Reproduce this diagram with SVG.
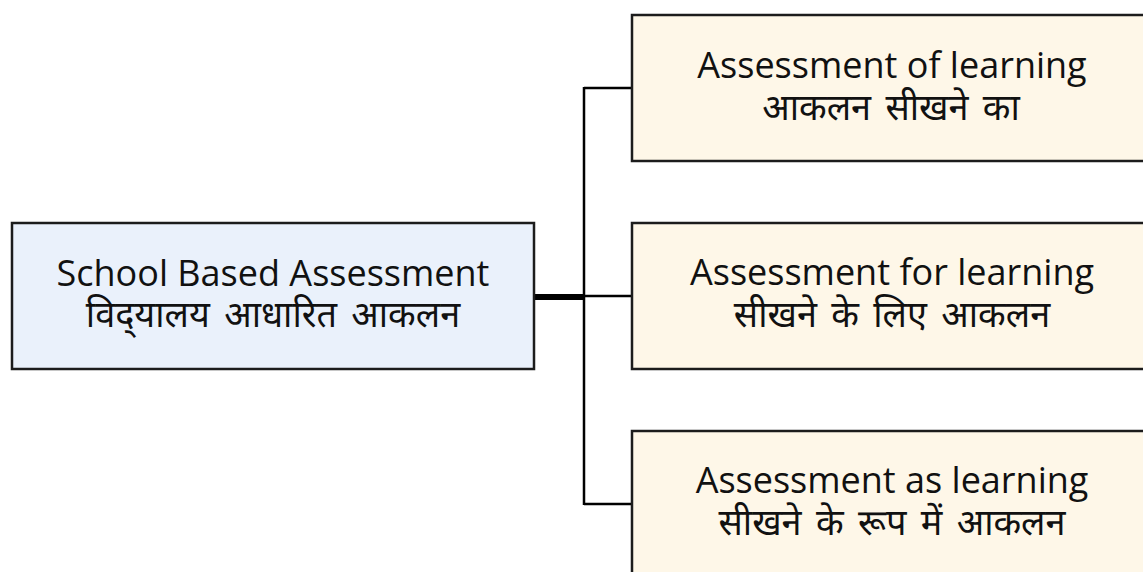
<svg xmlns="http://www.w3.org/2000/svg" width="1143" height="572" viewBox="0 0 1143 572">
  <style>
    .box { stroke: #1c1c1c; stroke-width: 2.5; }
    .root { fill: #eaf1fb; }
    .leaf { fill: #fef7e8; }
    .en { font-family: "Open Sans", "Noto Sans", sans-serif; font-size: 36px; fill: #111; text-anchor: middle; }
    .hi { font-family: "Noto Sans Devanagari", "Noto Sans", "Lohit Devanagari", sans-serif; font-size: 36px; font-weight: normal; fill: #111; text-anchor: middle; word-spacing: 5px; }
    .wire { fill: none; stroke: #000; stroke-width: 2.5; }
    .trunk { fill: none; stroke: #000; stroke-width: 6; }
  </style>
  <rect width="1143" height="572" fill="#ffffff"/>

  <!-- connectors -->
  <g id="connectors">
    <line class="trunk" x1="534" y1="297" x2="584" y2="297"/>
    <line class="wire" x1="584" y1="87" x2="584" y2="505"/>
    <line class="wire" x1="584" y1="88" x2="632" y2="88"/>
    <line class="wire" x1="584" y1="296" x2="632" y2="296"/>
    <line class="wire" x1="584" y1="504" x2="632" y2="504"/>
  </g>

  <g id="school-based">
    <rect class="box root" x="12" y="223" width="522" height="146"/>
    <text class="en" x="273" y="286">School Based Assessment</text>
    <text class="hi" x="273" y="327">विद्‌यालय आधारित आकलन</text>
  </g>

  <g id="of-learning">
    <rect class="box leaf" x="632" y="15" width="520" height="146"/>
    <text class="en" x="892" y="78">Assessment of learning</text>
    <text class="hi" x="891" y="120">आकलन सीखने का</text>
  </g>

  <g id="for-learning">
    <rect class="box leaf" x="632" y="223" width="520" height="146"/>
    <text class="en" x="892" y="285">Assessment for learning</text>
    <text class="hi" x="892" y="327">सीखने के लिए आकलन</text>
  </g>

  <g id="as-learning">
    <rect class="box leaf" x="632" y="431" width="520" height="146"/>
    <text class="en" x="892" y="493">Assessment as learning</text>
    <text class="hi" x="892" y="535">सीखने के रूप में आकलन</text>
  </g>
</svg>
